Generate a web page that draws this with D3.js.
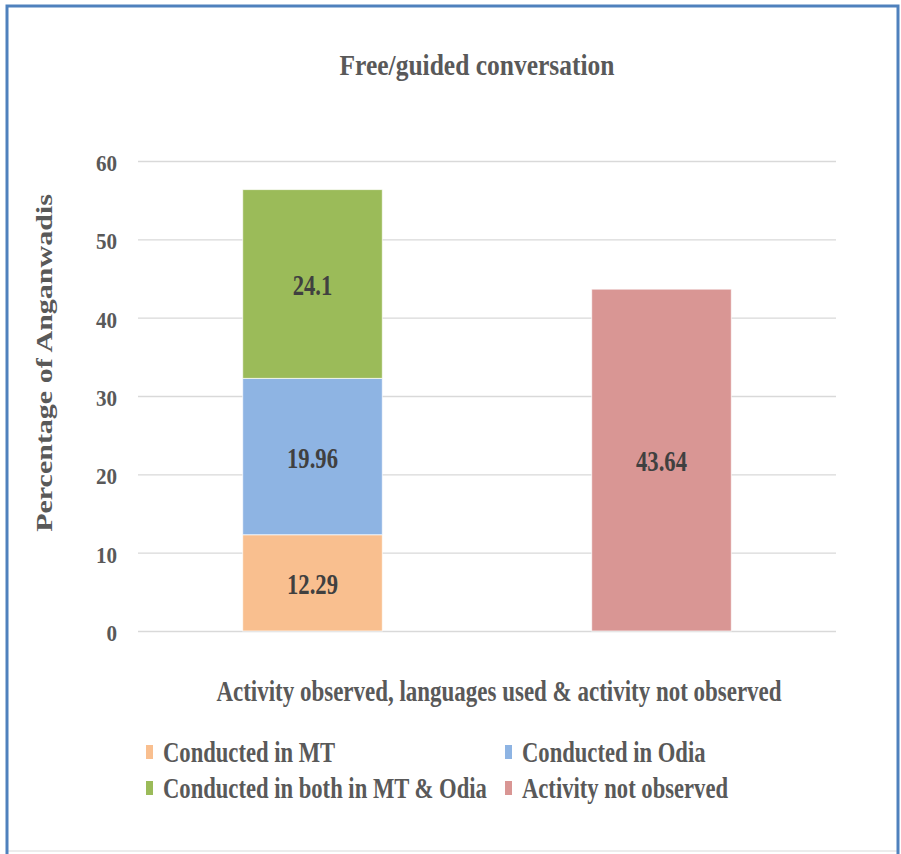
<!DOCTYPE html>
<html>
<head>
<meta charset="utf-8">
<script src="https://cdn.jsdelivr.net/npm/d3@7"></script>
<style>
  html, body { margin: 0; padding: 0; background: #fff; }
</style>
</head>
<body>
<div id="chart"></div>
<script>
const categories = ["Observed", "Not observed"];
const seriesNames = ["Conducted in MT", "Conducted in Odia", "Conducted in both in MT & Odia", "Activity not observed"];
const seriesColors = ["#F9BF8F", "#8EB4E3", "#9BBB59", "#D99694"];
// values per series, one per category
const mtValues = [12.29, 0];
const odiaValues = [19.96, 0];
const bothValues = [24.1, 0];
const notObservedValues = [0, 43.64];
const yTicks = [0, 10, 20, 30, 40, 50, 60];

const W = 901, H = 854;
const FONT = '"Liberation Serif", Tinos, "Times New Roman", "DejaVu Serif", serif';
const SX = 0.8; // fonts in the picture are horizontally condensed
const margin = { left: 138, right: 65, top: 161, bottom: 223 };

const svg = d3.select('#chart').append('svg').attr('width', W).attr('height', H);

// frame
svg.append('rect').attr('x', 0).attr('y', 0).attr('width', W).attr('height', H).attr('fill', '#fff');
svg.append('line').attr('x1', 8).attr('x2', 897).attr('y1', 851).attr('y2', 851).attr('stroke', '#d9d9d9').attr('stroke-width', 1);
svg.append('path').attr('d', `M7,854 V6 H898 V854`).attr('fill', 'none').attr('stroke', '#4F81BD').attr('stroke-width', 3);

const x = d3.scaleBand().domain(categories).range([margin.left, W - margin.right]).paddingInner(0.6).paddingOuter(0.3);
const y = d3.scaleLinear().domain([0, 60]).range([H - margin.bottom, margin.top]);

function condensed(sel, px, py, anchor, sx) {
  sel.attr('text-anchor', anchor || 'middle').attr('transform', `translate(${px},${py}) scale(${sx || SX},1)`)
    .attr('font-family', FONT).attr('font-weight', 'bold');
  return sel;
}

// gridlines
const yAxis = d3.axisLeft(y).tickValues(yTicks).tickSize(-(W - margin.left - margin.right)).tickPadding(20);
const gy = svg.append('g').attr('transform', `translate(${margin.left},0)`).call(yAxis);
gy.select('.domain').remove();
gy.selectAll('.tick line').attr('stroke', '#d9d9d9').attr('stroke-width', 1.3);
gy.selectAll('.tick text').remove();
yTicks.forEach(t => {
  condensed(svg.append('text'), 117, y(t) + 10, 'end', 0.88)
    .attr('font-size', 24).attr('fill', '#595959').text(t);
});

// stacked data
const rows = categories.map((c, i) => ({
  cat: c,
  [seriesNames[0]]: mtValues[i],
  [seriesNames[1]]: odiaValues[i],
  [seriesNames[2]]: bothValues[i],
  [seriesNames[3]]: notObservedValues[i]
}));
const stack = d3.stack().keys(seriesNames)(rows);
const color = d3.scaleOrdinal().domain(seriesNames).range(seriesColors);

const layers = svg.append('g').selectAll('g').data(stack).join('g').attr('fill', d => color(d.key));
layers.selectAll('rect').data(d => d.filter(p => p[1] - p[0] > 0)).join('rect')
  .attr('x', d => x(d.data.cat))
  .attr('width', x.bandwidth())
  .attr('y', d => y(d[1]))
  .attr('height', d => y(d[0]) - y(d[1]))
  .attr('stroke', 'rgba(255,255,255,0.7)').attr('stroke-width', 1);

// value labels
stack.forEach(layer => {
  layer.forEach(p => {
    const v = p[1] - p[0];
    if (v <= 0) return;
    condensed(svg.append('text'), x(p.data.cat) + x.bandwidth() / 2, (y(p[0]) + y(p[1])) / 2 + 11, 'middle', 0.78)
      .attr('font-size', 29).attr('fill', '#404040').text(+v.toFixed(2));
  });
});

// title
condensed(svg.append('text'), 477, 75, 'middle', 0.85).attr('font-size', 30).attr('fill', '#595959').text('Free/guided conversation');

// y axis title
svg.append('text').attr('text-anchor', 'middle')
  .attr('font-family', FONT).attr('font-weight', 'bold')
  .attr('transform', `translate(52,363) rotate(-90) scale(1,0.8)`)
  .attr('font-size', 30).attr('fill', '#595959').text('Percentage of Anganwadis');

// x axis title
condensed(svg.append('text'), 499, 701, 'middle', 0.806).attr('font-size', 28.5).attr('fill', '#595959')
  .text('Activity observed, languages used & activity not observed');

// legend
const legendPos = [[146, 762], [505, 762], [146, 798], [505, 798]];
seriesNames.forEach((s, i) => {
  const [lx, ly] = legendPos[i];
  svg.append('rect').attr('x', lx).attr('y', ly - 17).attr('width', 7).attr('height', 14).attr('fill', color(s));
  condensed(svg.append('text'), lx + 17, ly, 'start', 0.78).attr('font-size', 29).attr('fill', '#595959').text(s);
});
</script>
</body>
</html>
